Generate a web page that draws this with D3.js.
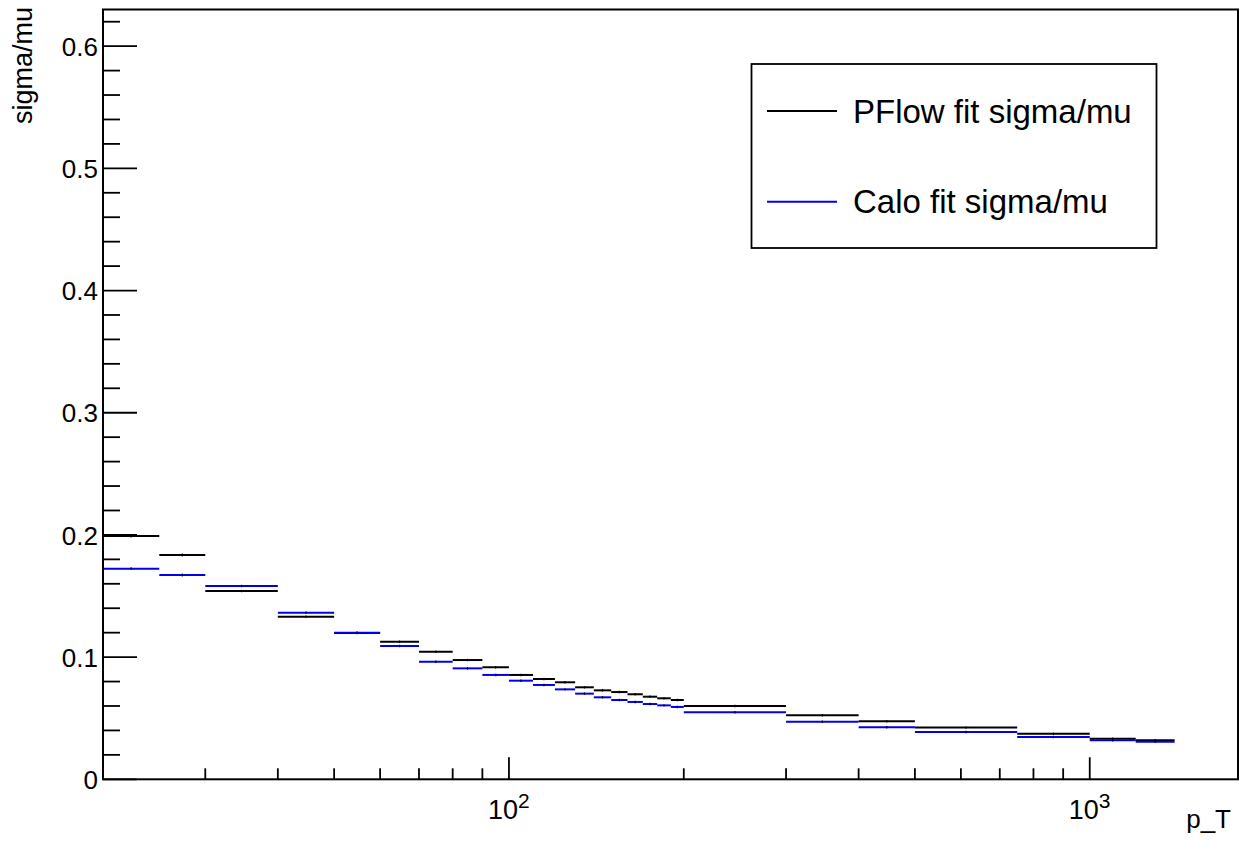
<!DOCTYPE html>
<html>
<head>
<meta charset="utf-8">
<script src="https://cdn.jsdelivr.net/npm/d3@7"></script>
<style>
	body { margin: 0; background: #fff; }
	svg { display: block; font-family: 'Liberation Sans', Arial, sans-serif; }
</style>
</head>
<body>
<svg width="1242" height="844"></svg>
<script>
// sigma/mu vs p_T, PFlow and Calo fits

var binEdges = [20, 25, 30, 40, 50, 60, 70, 80, 90, 100, 110, 120, 130, 140, 150, 160, 170, 180, 190, 200, 300, 400, 500, 750, 1000, 1200, 1400]
var pflowValues = [0.1991, 0.1835, 0.1541, 0.1331, 0.1198, 0.1126, 0.1044, 0.0976, 0.0917, 0.0854, 0.0821, 0.0794, 0.0753, 0.0728, 0.0714, 0.0696, 0.0676, 0.0663, 0.0649, 0.0600, 0.0524, 0.0475, 0.0423, 0.0373, 0.0332, 0.0319]
var caloValues = [0.1724, 0.1672, 0.1582, 0.1364, 0.1200, 0.1091, 0.0962, 0.0908, 0.0854, 0.0807, 0.0772, 0.0736, 0.0701, 0.0671, 0.0649, 0.0633, 0.0616, 0.0605, 0.0592, 0.0548, 0.0471, 0.0426, 0.0387, 0.0346, 0.0319, 0.0308]
var pflowErrors = [0.0012, 0.0012, 0.0010, 0.0010, 0.0010, 0.0010, 0.0010, 0.0010, 0.0010, 0.0010, 0.0010, 0.0010, 0.0010, 0.0010, 0.0010, 0.0010, 0.0010, 0.0010, 0.0010, 0.0010, 0.0010, 0.0010, 0.0010, 0.0010, 0.0010, 0.0010]
var caloErrors = [0.0012, 0.0012, 0.0010, 0.0010, 0.0010, 0.0010, 0.0010, 0.0010, 0.0010, 0.0010, 0.0010, 0.0010, 0.0010, 0.0010, 0.0010, 0.0010, 0.0010, 0.0010, 0.0010, 0.0010, 0.0010, 0.0010, 0.0010, 0.0010, 0.0010, 0.0010]
var seriesNames = ['PFlow fit sigma/mu', 'Calo fit sigma/mu']
var seriesColors = ['#000000', '#0000ee']
var xDomain = [20, 1800]
var yDomain = [0, 0.63]
var xMajorTicks = [100, 1000]
var xMajorLabels = ['2', '3']
var xMinorTicks = [30, 40, 50, 60, 70, 80, 90, 200, 300, 400, 500, 600, 700, 800, 900]
var yMajorTicks = [0, 0.1, 0.2, 0.3, 0.4, 0.5, 0.6]
var yLabels = ['0', '0.1', '0.2', '0.3', '0.4', '0.5', '0.6']

var svg = d3.select('svg')
var frame = {left: 103, right: 1238, top: 9.5, bottom: 779.3}

var x = d3.scaleLog().domain(xDomain).range([frame.left, frame.right])
var y = d3.scaleLinear().domain(yDomain).range([frame.bottom, frame.top])

// minor y ticks every 0.02
var yMinorTicks = d3.range(0, 0.63, 0.02).filter(function(v) {
	return Math.abs(v * 10 - Math.round(v * 10)) > 1e-6
})

var g = svg.append('g')

// histograms
function drawHist(values, errors, color) {
	var hg = g.append('g')
	var bins = values.map(function(v, i) {
		return {lo: binEdges[i], hi: binEdges[i + 1], v: v, e: errors[i]}
	})
	hg.selectAll('.bar')
		.data(bins)
		.enter()
		.append('line')
		.attr('x1', function(d) { return x(d.lo) })
		.attr('x2', function(d) { return x(d.hi) })
		.attr('y1', function(d) { return y(d.v) })
		.attr('y2', function(d) { return y(d.v) })
		.attr('stroke', color)
		.attr('stroke-width', 2)
	hg.selectAll('.err')
		.data(bins)
		.enter()
		.append('line')
		.attr('x1', function(d) { return x(Math.sqrt(d.lo * d.hi)) })
		.attr('x2', function(d) { return x(Math.sqrt(d.lo * d.hi)) })
		.attr('y1', function(d) { return y(d.v - d.e) })
		.attr('y2', function(d) { return y(d.v + d.e) })
		.attr('stroke', '#000')
		.attr('stroke-width', 1.2)
}
drawHist(pflowValues, pflowErrors, seriesColors[0])
drawHist(caloValues, caloErrors, seriesColors[1])

// frame
g.append('rect')
	.attr('x', frame.left)
	.attr('y', frame.top)
	.attr('width', frame.right - frame.left)
	.attr('height', frame.bottom - frame.top)
	.attr('fill', 'none')
	.attr('stroke', '#000')
	.attr('stroke-width', 2)

// y axis ticks
g.selectAll('.ymaj')
	.data(yMajorTicks)
	.enter()
	.append('line')
	.attr('x1', frame.left).attr('x2', frame.left + 34)
	.attr('y1', function(d) { return y(d) }).attr('y2', function(d) { return y(d) })
	.attr('stroke', '#000').attr('stroke-width', 1.8)
g.selectAll('.ymin')
	.data(yMinorTicks)
	.enter()
	.append('line')
	.attr('x1', frame.left).attr('x2', frame.left + 17)
	.attr('y1', function(d) { return y(d) }).attr('y2', function(d) { return y(d) })
	.attr('stroke', '#000').attr('stroke-width', 1.8)
g.selectAll('.ylab')
	.data(yMajorTicks)
	.enter()
	.append('text')
	.attr('x', frame.left - 5)
	.attr('y', function(d) { return y(d) })
	.attr('dy', '0.37em')
	.attr('text-anchor', 'end')
	.attr('font-size', 26)
	.text(function(d, i) { return yLabels[i] })

// x axis ticks
g.selectAll('.xmaj')
	.data(xMajorTicks)
	.enter()
	.append('line')
	.attr('x1', function(d) { return x(d) }).attr('x2', function(d) { return x(d) })
	.attr('y1', frame.bottom).attr('y2', frame.bottom - 22)
	.attr('stroke', '#000').attr('stroke-width', 1.8)
g.selectAll('.xmin')
	.data(xMinorTicks)
	.enter()
	.append('line')
	.attr('x1', function(d) { return x(d) }).attr('x2', function(d) { return x(d) })
	.attr('y1', frame.bottom).attr('y2', frame.bottom - 11)
	.attr('stroke', '#000').attr('stroke-width', 1.8)
var xlab = g.selectAll('.xlab')
	.data(xMajorTicks)
	.enter()
	.append('text')
	.attr('x', function(d) { return x(d) - 21 })
	.attr('y', 819)
	.attr('font-size', 27)
xlab.append('tspan').text('10')
xlab.append('tspan')
	.attr('dy', -11)
	.attr('font-size', 21)
	.text(function(d, i) { return xMajorLabels[i] })

// axis titles
g.append('text')
	.attr('x', 1231)
	.attr('y', 828)
	.attr('text-anchor', 'end')
	.attr('font-size', 26)
	.text('p_T')
g.append('text')
	.attr('transform', 'translate(32,7) rotate(-90)')
	.attr('text-anchor', 'end')
	.attr('font-size', 27)
	.text('sigma/mu')

// legend
var legend = g.append('g')
legend.append('rect')
	.attr('x', 751.5).attr('y', 64)
	.attr('width', 405).attr('height', 184)
	.attr('fill', '#fff')
	.attr('stroke', '#000')
	.attr('stroke-width', 1.8)
var item = legend.selectAll('.item')
	.data(seriesNames)
	.enter()
	.append('g')
	.attr('transform', function(d, i) { return 'translate(0,' + (111 + i * 90.7) + ')' })
item.append('line')
	.attr('x1', 767).attr('x2', 837)
	.attr('stroke', function(d, i) { return seriesColors[i] })
	.attr('stroke-width', 2)
item.append('text')
	.attr('x', 853)
	.attr('y', 0)
	.attr('dy', '0.35em')
	.attr('font-size', 33)
	.text(function(d) { return d })
</script>
</body>
</html>
